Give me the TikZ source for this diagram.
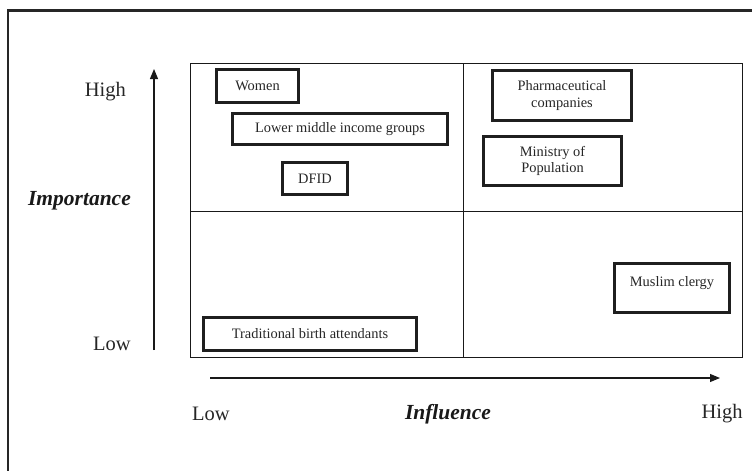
\documentclass[tikz,border=0pt]{standalone}
\usepackage{fontspec}
\setmainfont{Liberation Serif}
\usetikzlibrary{arrows.meta}
\begin{document}
\begin{tikzpicture}[x=1pt,y=-1pt,
  stake/.style={draw=black!88, line width=2.1pt, inner sep=0pt, align=center,
    font=\fontsize{14.4}{16.5}\selectfont, text=black!85},
  axislabel/.style={font=\fontsize{20.5}{24}\selectfont, text=black!85, inner sep=0pt},
  axistitle/.style={font=\fontsize{21.5}{24}\selectfont\bfseries\itshape, text=black!90, inner sep=0pt},
  gridline/.style={draw=black!90, line width=0.9pt},
  axisarrow/.style={draw=black!90, line width=1.1pt, -{Triangle[length=10pt,width=8pt]}}]
\useasboundingbox (0,0) rectangle (752,471);
\fill[white] (0,0) rectangle (752,471);
% outer frame
\coordinate (fbl) at (8,480);
\coordinate (ftl) at (8,10.5);
\coordinate (ftr) at (760,10.5);
\draw[draw=black!85, line width=2.6pt] (fbl) -- (ftl) -- (ftr);
% grid
\coordinate (g1) at (190.5,63);
\coordinate (g2) at (742.5,357);
\coordinate (gmt) at (463,63);
\coordinate (gmb) at (463,357);
\coordinate (gml) at (190.5,211);
\coordinate (gmr) at (742.5,211);
\draw[gridline] (g1) rectangle (g2);
\draw[gridline] (gmt) -- (gmb);
\draw[gridline] (gml) -- (gmr);
% stakeholder boxes
\node[stake, minimum width=82pt, minimum height=33pt] (women) at (257.5,86) {Women};
\node[stake, minimum width=215pt, minimum height=31pt] (lmig) at (340,129) {Lower middle income groups};
\node[stake, minimum width=65pt, minimum height=32pt] (dfid) at (315,178.5) {DFID};
\node[stake, minimum width=139pt, minimum height=50pt] (pharma) at (562,95.5) {Pharmaceutical\\companies};
\node[stake, minimum width=138pt, minimum height=49pt] (mop) at (552.5,161) {Ministry of\\Population};
\node[stake, minimum width=115pt, minimum height=49pt] (clergy) at (672,288) {Muslim clergy\\[-8pt]\strut};
\node[stake, minimum width=213pt, minimum height=33pt] (tba) at (310,334) {Traditional birth attendants};
% axes
\coordinate (va) at (154,350);
\coordinate (vb) at (154,69);
\draw[axisarrow] (va) -- (vb);
\coordinate (ha) at (210,378);
\coordinate (hb) at (720,378);
\draw[axisarrow] (ha) -- (hb);
% axis labels
\node[axislabel, anchor=east] (vhigh) at (126,92) {High};
\node[axistitle, anchor=east] (vtitle) at (131,201) {Importance};
\node[axislabel, anchor=east] (vlow) at (131,344) {Low};
\node[axislabel] (hlow) at (211,414) {Low};
\node[axistitle] (htitle) at (448,414) {Influence};
\node[axislabel] (hhigh) at (722,414) {High};
\end{tikzpicture}
\end{document}
